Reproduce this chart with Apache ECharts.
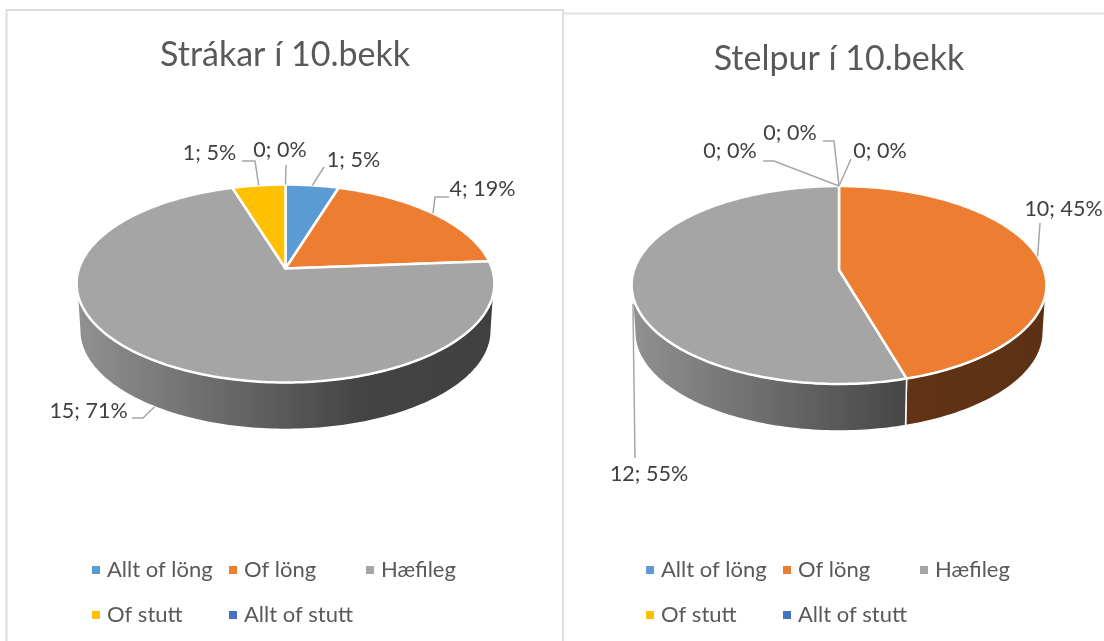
<!DOCTYPE html>
<html>
<head>
<meta charset="utf-8">
<script src="https://cdn.jsdelivr.net/npm/echarts@6/dist/echarts.min.js"></script>
<style>html,body{margin:0;padding:0;background:#fff}#c{width:1104px;height:641px}</style>
</head>
<body>
<div id="c"></div>
<script>
// ---- data ----
const categories = ['Allt of löng', 'Of löng', 'Hæfileg', 'Of stutt', 'Allt of stutt'];
const boys = [1, 4, 15, 1, 0];
const girls = [0, 10, 12, 0, 0];
const titles = ['Strákar í 10.bekk', 'Stelpur í 10.bekk'];

// ---- styles ----
const colors = ['#5B9BD5', '#ED7D31', '#A5A5A5', '#FFC000', '#4472C4'];
const FONT = 'Lato';

// ---- layout (perspective disc, label placement) ----
const pieWidths = [206.5, 205];
const pieB = 96.7, pieK = 0.1515, wallDepth = 47, wallScale = 0.985;
const centers = [[285.5, 268.5], [839, 270]];
const labelLayouts = [
  [
    { at: [353.5, 160], via: [[324, 167]], drop: 0 },
    { at: [482.5, 189], via: [[449, 197], [435, 197]], drop: 0 },
    { at: [88.5, 411], via: [[132, 418], [143, 418]], drop: 47 },
    { at: [209.5, 153], via: [[242, 161], [255, 161]], drop: 0 },
    { at: [280, 150], via: [[286, 165]], drop: 0 }
  ],
  [
    { at: [880, 151], via: [[851, 159]], drop: 0 },
    { at: [1063.5, 209], via: [[1040, 223]], drop: 0 },
    { at: [649, 474], via: [[635, 458]], drop: 20 },
    { at: [730, 151], via: [[763, 161], [774, 161]], drop: 0 },
    { at: [790, 133], via: [[823, 141], [834, 141]], drop: 0 }
  ]
];
const legendColumns = [0, 137, 274, 0, 137];
const legendRows = [559, 559, 559, 604, 604];
const legendOrigins = [92, 646];

const pies = [boys, girls];
const sum = a => a.reduce((s, v) => s + v, 0);

function rim(p, th) {
  const w = 1 + pieK * Math.cos(th);
  return [centers[p][0] + pieWidths[p] * Math.sin(th) / w, centers[p][1] - pieB * Math.cos(th) / w];
}
function wall(p, pt, depth) {
  const d = depth === undefined ? wallDepth : depth;
  return [centers[p][0] + (pt[0] - centers[p][0]) * (1 - (1 - wallScale) * d / wallDepth), pt[1] + d];
}
function shade(hex, f) {
  const n = parseInt(hex.slice(1), 16);
  return 'rgb(' + [(n >> 16) & 255, (n >> 8) & 255, n & 255].map(v => Math.round(v * f)).join(',') + ')';
}
const frontA = Math.acos(-pieK), frontB = 2 * Math.PI - frontA;

function renderSlice(catIdx) {
  return function (params, api) {
    const p = api.value(0), value = api.value(1);
    const arr = pies[p], total = sum(arr);
    const before = arr.slice(0, catIdx).reduce((s, v) => s + v, 0);
    const a0 = before / total * 2 * Math.PI, a1 = (before + value) / total * 2 * Math.PI;
    const children = [];
    const color = colors[catIdx];
    if (value > 0) {
      const steps = Math.max(8, Math.ceil((a1 - a0) / 0.02));
      const top = [centers[p].slice()];
      for (let i = 0; i <= steps; i++) top.push(rim(p, a0 + (a1 - a0) * i / steps));
      children.push({
        type: 'polygon', z2: 20,
        shape: { points: top },
        style: { fill: color, stroke: '#fff', lineWidth: 2.5, lineJoin: 'round' }
      });
      const w0 = Math.max(a0, frontA), w1 = Math.min(a1, frontB);
      if (w1 > w0) {
        const up = [], down = [];
        const n = Math.ceil((w1 - w0) / 0.02);
        for (let i = 0; i <= n; i++) {
          const pt = rim(p, w0 + (w1 - w0) * i / n);
          up.push(pt);
          down.unshift(wall(p, pt));
        }
        const left = centers[p][0] - 208, right = centers[p][0] + 208;
        children.push({
          type: 'polygon', z2: 5,
          shape: { points: up.concat(down) },
          style: {
            fill: new echarts.graphic.LinearGradient(left, 0, right, 0, [
              { offset: 0, color: shade(color, 0.88) },
              { offset: 0.68, color: shade(color, 0.41) },
              { offset: 1, color: shade(color, 0.39) }
            ], true),
            stroke: '#fff', lineWidth: 1.5
          }
        });
      }
    }
    const lay = labelLayouts[p][catIdx];
    const mid = (a0 + a1) / 2;
    const end = lay.drop ? wall(p, rim(p, mid), lay.drop) : rim(p, mid);
    children.push({
      type: 'polyline', z2: 30,
      shape: { points: lay.via.concat([end]) },
      style: { fill: null, stroke: '#a6a6a6', lineWidth: 1.5 }
    });
    children.push({
      type: 'text', z2: 31,
      style: {
        x: lay.at[0], y: lay.at[1],
        text: value + '; ' + Math.round(value / total * 100) + '%',
        fill: '#404040', font: '21.5px ' + FONT, align: 'center', verticalAlign: 'middle'
      }
    });
    return { type: 'group', children };
  };
}

function legendItem(name, c, origin) {
  return {
    data: [name], left: origin + legendColumns[c], top: legendRows[c],
    itemWidth: 8, itemHeight: 8, itemGap: 0, padding: 0, icon: 'rect',
    selectedMode: false,
    textStyle: { color: '#595959', fontFamily: FONT, fontSize: 22, padding: [0, 0, 0, 2] }
  };
}

const chart = echarts.init(document.getElementById('c'), null, { renderer: 'canvas' });
chart.setOption({
  animation: false,
  backgroundColor: '#fff',
  color: colors,
  title: [
    { text: titles[0], left: 280, top: 33, textAlign: 'center',
      textStyle: { color: '#595959', fontFamily: FONT, fontSize: 34, fontWeight: 'normal' } },
    { text: titles[1], left: 834, top: 37, textAlign: 'center',
      textStyle: { color: '#595959', fontFamily: FONT, fontSize: 34, fontWeight: 'normal' } }
  ],
  legend: legendOrigins.flatMap(o => categories.map((n, c) => legendItem(n, c, o))),
  graphic: [
    { type: 'polyline', shape: { points: [[6.5, 641], [6.5, 10], [563, 10], [563, 641]] },
      style: { fill: null, stroke: '#dcdcdc', lineWidth: 2 }, silent: true },
    { type: 'line', shape: { x1: 563, y1: 13.5, x2: 1104, y2: 13.5 },
      style: { stroke: '#e2e2e2', lineWidth: 2 }, silent: true }
  ],
  series: categories.map((name, c) => ({
    type: 'custom',
    name,
    coordinateSystem: 'none',
    renderItem: renderSlice(c),
    itemStyle: { color: colors[c] },
    encode: { value: 1 },
    data: [[0, boys[c]], [1, girls[c]]]
  }))
});
</script>
</body>
</html>
